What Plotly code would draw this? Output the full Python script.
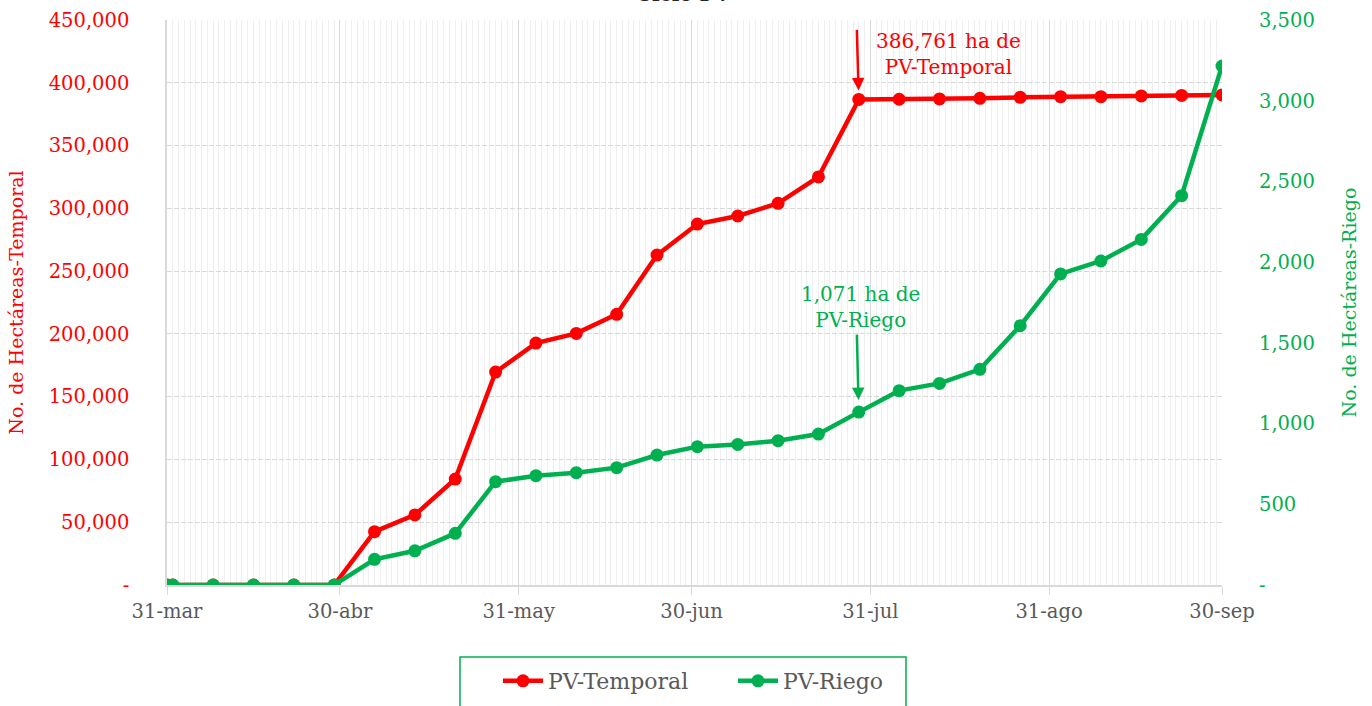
import plotly.graph_objects as go

dates = ["2023-03-31", "2023-04-01", "2023-04-08", "2023-04-15", "2023-04-22", "2023-04-29",
         "2023-05-06", "2023-05-13", "2023-05-20", "2023-05-27", "2023-06-03", "2023-06-10",
         "2023-06-17", "2023-06-24", "2023-07-01", "2023-07-08", "2023-07-15", "2023-07-22",
         "2023-07-29", "2023-08-05", "2023-08-12", "2023-08-19", "2023-08-26", "2023-09-02",
         "2023-09-09", "2023-09-16", "2023-09-23", "2023-09-30"]

pv_temporal = [0, 0, 0, 0, 0, 0,
               42500, 55800, 84400, 169600, 192700, 200400,
               215600, 262800, 287500, 293900, 304000, 325000,
               386761, 386900, 387100, 387600, 388400, 388900,
               388900, 389500, 389900, 390300]

pv_riego = [0, 0, 0, 0, 0, 0,
            159, 212, 320, 640, 677, 696,
            727, 805, 857, 871, 894, 935,
            1071, 1204, 1249, 1336, 1606, 1927,
            2007, 2141, 2412, 3215]

x_tickvals = ["2023-03-31", "2023-04-30", "2023-05-31", "2023-06-30", "2023-07-31", "2023-08-31", "2023-09-30"]
x_ticktext = ["31-mar", "30-abr", "31-may", "30-jun", "31-jul", "31-ago", "30-sep"]

y1_tickvals = [0, 50000, 100000, 150000, 200000, 250000, 300000, 350000, 400000, 450000]
y1_ticktext = ["-", "50,000", "100,000", "150,000", "200,000", "250,000", "300,000", "350,000", "400,000", "450,000"]
y2_tickvals = [0, 500, 1000, 1500, 2000, 2500, 3000, 3500]
y2_ticktext = ["-", "500", "1,000", "1,500", "2,000", "2,500", "3,000", "3,500"]

RED = "#FF0000"
GREEN = "#00B050"
GRAY = "#595959"
FONT = "DejaVu Serif"
TS = 19.5

fig = go.Figure()
fig.add_trace(go.Scatter(x=dates, y=pv_temporal, name="PV-Temporal", mode="lines+markers",
                         line=dict(color=RED, width=4.5), marker=dict(color=RED, size=13)))
fig.add_trace(go.Scatter(x=dates, y=pv_riego, name="PV-Riego", mode="lines+markers", yaxis="y2",
                         line=dict(color=GREEN, width=4.5), marker=dict(color=GREEN, size=13)))

fig.update_layout(
    width=1372, height=706,
    margin=dict(l=167, r=150, t=20, b=121, autoexpand=False),
    paper_bgcolor="white", plot_bgcolor="white",
    font=dict(family=FONT, size=TS, color=GRAY),
    showlegend=True,
    legend=dict(orientation="h", xref="container", yref="container",
                x=733 / 1372, xanchor="center", y=1 - 660 / 706, yanchor="top",
                entrywidth=180, itemwidth=40,
                font=dict(size=22, color=GRAY), borderwidth=0, bgcolor="rgba(0,0,0,0)"),
    xaxis=dict(type="date", range=["2023-03-31", "2023-09-30"],
               tickvals=x_tickvals, ticktext=x_ticktext,
               tickfont=dict(size=TS, color=GRAY),
               showgrid=True, gridcolor="#d9d9d9", gridwidth=1,
               ticks="outside", ticklen=8, tickcolor="#d9d9d9",
               showline=True, linecolor="#d9d9d9", linewidth=1.5,
               zeroline=False,
               minor=dict(dtick=86400000, tick0="2023-03-31", showgrid=True,
                          gridcolor="#efefef", gridwidth=1, ticks="")),
    yaxis=dict(range=[0, 450000], tickvals=y1_tickvals, ticktext=y1_ticktext,
               tickfont=dict(size=TS, color=RED),
               title=dict(text="No. de Hectáreas-Temporal", font=dict(size=19, color=RED), standoff=20),
               showgrid=True, gridcolor="#d9d9d9", griddash="5px,2px", gridwidth=1.2,
               showline=True, linecolor="#d9d9d9", linewidth=1.5,
               zeroline=False, ticks="", ticklabelstandoff=32),
    yaxis2=dict(range=[0, 3500], tickvals=y2_tickvals, ticktext=y2_ticktext, overlaying="y", side="right",
                tickfont=dict(size=TS, color=GREEN),
                title=dict(text="No. de Hectáreas-Riego", font=dict(size=19, color=GREEN), standoff=28),
                showgrid=False, zeroline=False, showline=False, ticks="", ticklabelstandoff=36),
)

# legend frame
fig.add_shape(type="rect", xref="paper", yref="paper",
              x0=(460 - 167) / 1055, x1=(906 - 167) / 1055,
              y0=(585 - 657) / 565, y1=(585 - 730) / 565,
              line=dict(color=GREEN, width=1.5), fillcolor="rgba(0,0,0,0)", layer="below")

# truncated title at the top
fig.add_annotation(text="<b>Ciclo PV</b>", xref="paper", yref="paper", x=(683 - 167) / 1055, y=1,
                   yanchor="bottom", xanchor="center", yshift=12, showarrow=False,
                   font=dict(size=20, color="#262626", family=FONT))

# annotations
fig.add_annotation(x="2023-07-29", y=386761, xref="x", yref="y", ax=-2, ay=-71, axref="pixel", ayref="pixel",
                   text="", showarrow=True, arrowhead=2, arrowsize=1, arrowwidth=2.5, arrowcolor=RED, standoff=9)
fig.add_annotation(x="2023-07-29", y=386761, xref="x", yref="y", xshift=90, yshift=45,
                   text="386,761 ha de<br>PV-Temporal", showarrow=False,
                   font=dict(size=20, color=RED, family=FONT), align="center")
fig.add_annotation(x="2023-07-29", y=1071, xref="x", yref="y2", ax=-2, ay=-79, axref="pixel", ayref="pixel",
                   text="", showarrow=True, arrowhead=2, arrowsize=1, arrowwidth=2.5, arrowcolor=GREEN, standoff=12)
fig.add_annotation(x="2023-07-29", y=1071, xref="x", yref="y2", xshift=2, yshift=105,
                   text="1,071 ha de<br>PV-Riego", showarrow=False,
                   font=dict(size=20, color=GREEN, family=FONT), align="center")

fig.write_html("out.html", config={"displayModeBar": False},
               post_script="document.body.style.margin='0';document.body.style.overflow='hidden';")
